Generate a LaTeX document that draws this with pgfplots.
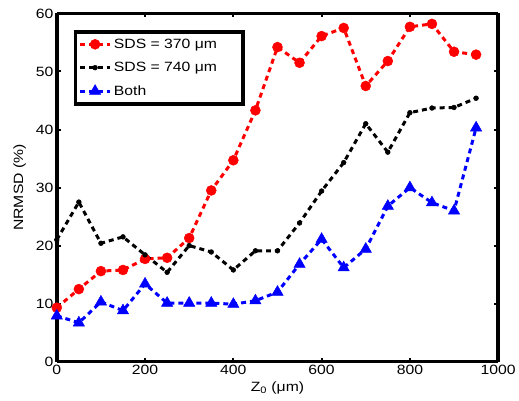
\documentclass[border=0pt]{standalone}
\usepackage{pgfplots}
\pgfplotsset{compat=1.18}
\usepackage{fontspec}
\setmainfont[FakeStretch=1.17]{Liberation Sans}
\pgfplotstableread{
x red black blue
0 9.3 21.0 7.9
50 12.5 27.5 6.7
100 15.6 20.4 10.3
150 15.8 21.5 8.8
200 17.7 18.4 13.4
250 17.9 15.4 10.1
300 21.3 20.0 10.1
350 29.5 18.9 10.1
400 34.7 15.8 9.9
450 43.3 19.1 10.5
500 54.2 19.1 12.0
550 51.5 23.9 16.8
600 56.1 29.4 21.1
650 57.5 34.3 16.2
700 47.5 41.0 19.4
750 51.8 36.1 26.8
800 57.7 42.9 30.0
850 58.2 43.7 27.4
900 53.4 43.8 26.0
950 52.9 45.4 40.3
}\datatable
\begin{document}
\begin{tikzpicture}
\begin{axis}[
 scale only axis, width=443pt, height=349.5pt,
 separate axis lines,
 axis x line*=box, axis y line*=box,
 xmin=0,xmax=1000,ymin=0,ymax=60,
 xtick={0,200,...,1000}, ytick={0,10,...,60},
 tick align=inside, major tick length=4pt,
 axis line style={line width=3.5pt, black},
 tick style={line width=2pt, black},
 ticklabel style={font=\fontsize{13.5}{15}\selectfont},
 /pgf/number format/assume math mode=true,
 /pgf/number format/1000 sep={},
 xlabel={Z\textsubscript{0} (μm)}, ylabel={NRMSD (\%)},
 label style={font=\fontsize{13.5}{15}\selectfont},
 ylabel style={at={(axis description cs:-0.062,0.5)}, anchor=south},
 legend style={at={(0.038,0.952)},anchor=north west, draw=black, line width=3.5pt,
   font=\fontsize{13.5}{15}\selectfont, inner xsep=3pt, inner ysep=5pt, row sep=8.5pt},
 legend cell align=left,
 legend image code/.code={\draw[mark repeat=2,mark phase=2] plot coordinates {(0cm,0cm)(0.54cm,0cm)(1.08cm,0cm)};},
]
\addplot[red, line width=3pt, dash pattern=on 5pt off 4pt, mark=*, mark size=5pt, mark options={solid, line width=0.5pt}] table[x=x,y=red] {\datatable};
\addlegendentry{SDS = 370 μm\hspace*{21pt}\mbox{}}
\addplot[black, line width=3pt, dash pattern=on 5pt off 4pt, mark=*, mark size=2.4pt, mark options={solid, line width=0.5pt}] table[x=x,y=black] {\datatable};
\addlegendentry{SDS = 740 μm}
\addplot[blue, line width=3pt, dash pattern=on 5pt off 4pt, mark=triangle*, mark size=6.5pt, mark options={solid, line width=0.5pt}] table[x=x,y=blue] {\datatable};
\addlegendentry{Both}
\end{axis}
\path ([shift={(-57pt,-39pt)}]current axis.south west) rectangle ([shift={(19pt,13.5pt)}]current axis.north east);
\end{tikzpicture}
\end{document}
